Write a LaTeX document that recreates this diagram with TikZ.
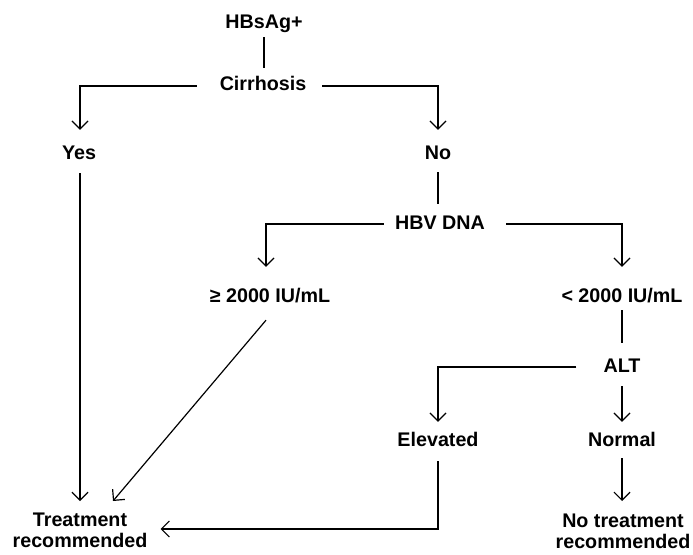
\documentclass[tikz,border=0pt]{standalone}
\usepackage{fontspec}
\setmainfont{Liberation Sans}
\usetikzlibrary{arrows.meta,calc}
\tikzset{
  lbl/.style={inner sep=0pt, anchor=base, text height=14pt, text depth=0pt,
    font=\fontsize{19.7}{20.5}\selectfont\bfseries},
  lbltwo/.style={inner sep=0pt, anchor=north, align=center,
    font=\fontsize{19.7}{20.5}\selectfont\bfseries},
  conn/.style={line width=1.2pt, draw=black},
  arr/.style={conn, -{Straight Barb[length=8pt,width=16pt,line width=1.2pt]}}
}
\begin{document}
\begin{tikzpicture}[x=1pt,y=-1pt]
\useasboundingbox (0,0) rectangle (693,554);
\node[lbl] (hbs) at (264,28) {HBsAg+};
\node[lbl] (cirr) at (263,90) {Cirrhosis};
\node[lbl] (yes) at (79,159) {Yes};
\node[lbl] (no) at (438,159) {No};
\node[lbl] (hbv) at (440,229) {HBV DNA};
\node[lbl] (ge) at (270,302) {≥ 2000 IU/mL};
\node[lbl] (lt) at (622,302) {< 2000 IU/mL};
\node[lbl] (alt) at (622,372) {ALT};
\node[lbl] (elev) at (438,446) {Elevated};
\node[lbl] (normal) at (622,446) {Normal};
\node[lbltwo] (treat) at (80,513) {Treatment\\recommended};
\node[lbltwo] (nt) at (623,514) {No treatment\\recommended};

\draw[conn] ($(hbs.south)+(0,9)$) -- ($(cirr.north)+(1,-8)$);
\draw[arr] ($(cirr.base west)+(-23,-4)$) -| ($(yes.north)+(1,-15)$);
\draw[arr] ($(cirr.base east)+(16,-4)$) -| ($(no.north)+(0,-15)$);
\draw[arr] ($(yes.south)+(1,14)$) -- ($(treat.north)+(0,-12)$);
\draw[conn] ($(no.south)+(0,13)$) -- ($(hbv.north)+(-2,-11)$);
\draw[arr] ($(hbv.base west)+(-11,-5)$) -| ($(ge.north)+(-4,-21)$);
\draw[arr] ($(hbv.base east)+(21,-5)$) -| ($(lt.north)+(0,-21)$);
\draw[arr] ($(ge.south)+(-4,18)$) -- ($(treat.north)+(33,-12)$);
\draw[conn] ($(lt.south)+(0,8)$) -- ($(alt.north)+(0,-15)$);
\draw[arr] ($(alt.base west)+(-27,-5)$) -| ($(elev.north)+(0,-10)$);
\draw[arr] ($(alt.south)+(0,14)$) -- ($(normal.north)+(0,-10)$);
\draw[arr] ($(elev.south)+(0,15)$) |- ($(treat.north east)+(13,16)$);
\draw[arr] ($(normal.south)+(0,12)$) -- ($(nt.north)+(-1,-13)$);
\end{tikzpicture}
\end{document}
